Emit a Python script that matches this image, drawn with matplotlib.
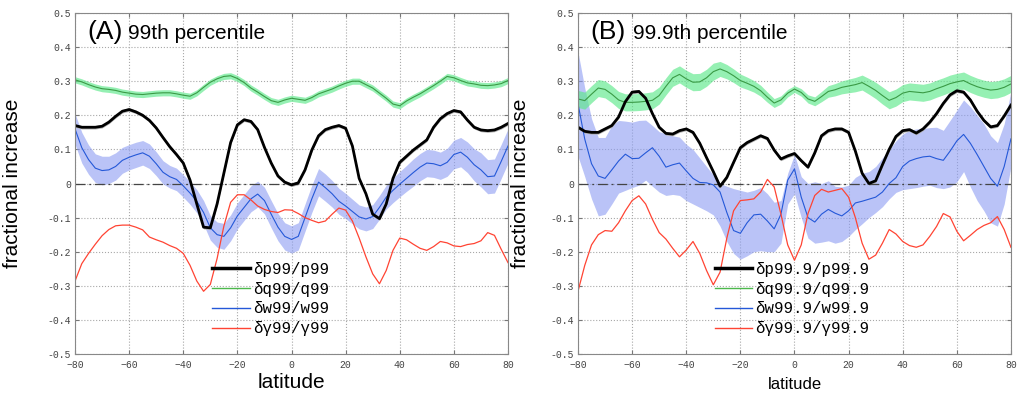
import numpy as np
import matplotlib
matplotlib.use('Agg')
import matplotlib.pyplot as plt
from matplotlib.lines import Line2D
from matplotlib.font_manager import FontProperties


# --- dados (fração de aumento vs latitude) ---
lat = np.arange(-80, 80.1, 2.5)

# painel A: percentil 99
a_p = [0.170, 0.165, 0.165, 0.165, 0.168, 0.180, 0.197, 0.212, 0.217, 0.210,
       0.200, 0.185, 0.163, 0.135, 0.108, 0.085, 0.060, 0.010, -0.060, -0.128,
       -0.130, -0.060, 0.030, 0.120, 0.172, 0.187, 0.182, 0.158, 0.106, 0.060,
       0.022, 0.004, -0.004, 0.002, 0.040, 0.098, 0.140, 0.158, 0.165, 0.170,
       0.162, 0.110, 0.015, -0.030, -0.090, -0.103, -0.060, 0.015, 0.062, 0.080,
       0.098, 0.113, 0.128, 0.165, 0.190, 0.205, 0.214, 0.210, 0.186, 0.165,
       0.157, 0.155, 0.157, 0.165, 0.176]
a_q = [0.304, 0.298, 0.290, 0.283, 0.278, 0.276, 0.273, 0.268, 0.265, 0.262,
       0.261, 0.263, 0.265, 0.266, 0.266, 0.263, 0.259, 0.256, 0.266, 0.282,
       0.297, 0.307, 0.314, 0.316, 0.308, 0.296, 0.280, 0.268, 0.255, 0.243,
       0.238, 0.245, 0.250, 0.247, 0.244, 0.252, 0.263, 0.270, 0.277, 0.286,
       0.294, 0.300, 0.300, 0.290, 0.280, 0.265, 0.250, 0.233, 0.228, 0.242,
       0.253, 0.263, 0.275, 0.287, 0.300, 0.314, 0.310, 0.302, 0.295, 0.292,
       0.288, 0.287, 0.289, 0.293, 0.302]
a_w = [0.160, 0.105, 0.070, 0.045, 0.038, 0.040, 0.050, 0.068, 0.077, 0.084,
       0.090, 0.080, 0.058, 0.033, 0.020, 0.012, -0.007, -0.028, -0.052, -0.085,
       -0.130, -0.150, -0.155, -0.130, -0.095, -0.070, -0.045, -0.031, -0.050, -0.090,
       -0.128, -0.155, -0.164, -0.155, -0.100, -0.045, 0.004, -0.012, -0.030, -0.052,
       -0.066, -0.082, -0.098, -0.104, -0.097, -0.070, -0.040, -0.020, -0.002, 0.015,
       0.032, 0.048, 0.060, 0.058, 0.052, 0.062, 0.085, 0.092, 0.077, 0.055,
       0.040, 0.020, 0.022, 0.065, 0.110]
a_w_err = [0.045, 0.045, 0.043, 0.042, 0.042, 0.040, 0.040, 0.038, 0.037, 0.037,
           0.036, 0.036, 0.035, 0.034, 0.033, 0.033, 0.033, 0.033, 0.034, 0.035,
           0.036, 0.037, 0.038, 0.038, 0.038, 0.038, 0.038, 0.038, 0.039, 0.040,
           0.040, 0.040, 0.040, 0.040, 0.040, 0.040, 0.040, 0.040, 0.039, 0.038,
           0.037, 0.036, 0.035, 0.035, 0.035, 0.035, 0.035, 0.036, 0.037, 0.038,
           0.040, 0.040, 0.040, 0.040, 0.040, 0.041, 0.042, 0.043, 0.045, 0.047,
           0.050, 0.050, 0.050, 0.050, 0.050]
a_r = [-0.286, -0.235, -0.205, -0.178, -0.153, -0.135, -0.124, -0.122, -0.122, -0.128,
       -0.136, -0.157, -0.165, -0.172, -0.182, -0.190, -0.205, -0.240, -0.286, -0.316,
       -0.296, -0.220, -0.125, -0.055, -0.033, -0.033, -0.048, -0.066, -0.076, -0.082,
       -0.085, -0.077, -0.078, -0.088, -0.100, -0.108, -0.115, -0.110, -0.090, -0.072,
       -0.078, -0.110, -0.160, -0.215, -0.265, -0.294, -0.255, -0.196, -0.160, -0.165,
       -0.178, -0.190, -0.196, -0.185, -0.170, -0.174, -0.183, -0.185, -0.179, -0.176,
       -0.168, -0.144, -0.152, -0.193, -0.232]
a_q_err = 0.009

# painel B: percentil 99.9
b_p = [0.165, 0.153, 0.150, 0.150, 0.160, 0.170, 0.195, 0.240, 0.268, 0.270,
       0.250, 0.205, 0.165, 0.147, 0.145, 0.155, 0.160, 0.150, 0.118, 0.076,
       0.035, -0.008, 0.018, 0.062, 0.105, 0.120, 0.130, 0.140, 0.132, 0.098,
       0.072, 0.081, 0.088, 0.067, 0.048, 0.090, 0.140, 0.155, 0.160, 0.160,
       0.150, 0.095, 0.030, 0.000, 0.008, 0.055, 0.100, 0.138, 0.155, 0.158,
       0.148, 0.160, 0.180, 0.205, 0.235, 0.260, 0.272, 0.268, 0.245, 0.212,
       0.185, 0.166, 0.170, 0.198, 0.230]
b_q = [0.248, 0.243, 0.262, 0.280, 0.276, 0.262, 0.245, 0.238, 0.238, 0.239,
       0.241, 0.244, 0.258, 0.285, 0.310, 0.320, 0.307, 0.297, 0.298, 0.310,
       0.328, 0.336, 0.328, 0.316, 0.302, 0.294, 0.285, 0.272, 0.253, 0.236,
       0.245, 0.265, 0.277, 0.267, 0.248, 0.241, 0.255, 0.270, 0.275, 0.282,
       0.286, 0.290, 0.296, 0.285, 0.273, 0.258, 0.244, 0.252, 0.265, 0.270,
       0.268, 0.266, 0.270, 0.278, 0.285, 0.293, 0.298, 0.302, 0.292, 0.284,
       0.278, 0.274, 0.276, 0.282, 0.292]
b_q_err = [0.025] * 21 + [0.022, 0.021, 0.020, 0.019, 0.018, 0.017, 0.016,
           0.015, 0.013, 0.012, 0.011, 0.010, 0.011, 0.012, 0.013, 0.015,
           0.017, 0.018, 0.019, 0.020, 0.021, 0.022, 0.023, 0.024] + [0.025] * 20
b_w = [0.234, 0.130, 0.058, 0.022, 0.015, 0.040, 0.066, 0.086, 0.073, 0.074,
       0.090, 0.105, 0.080, 0.048, 0.055, 0.060, 0.037, 0.015, 0.003, 0.002,
       -0.004, -0.025, -0.085, -0.138, -0.146, -0.115, -0.092, -0.090, -0.110, -0.133,
       -0.090, 0.010, 0.043, -0.040, -0.100, -0.113, -0.090, -0.076, -0.087, -0.095,
       -0.080, -0.057, -0.052, -0.046, -0.040, -0.025, 0.000, 0.017, 0.050, 0.066,
       0.073, 0.078, 0.080, 0.073, 0.068, 0.095, 0.125, 0.144, 0.118, 0.085,
       0.050, 0.015, -0.008, 0.050, 0.131]
b_w_hi = [0.386, 0.280, 0.190, 0.135, 0.135, 0.170, 0.185, 0.183, 0.180, 0.185,
          0.186, 0.170, 0.152, 0.146, 0.140, 0.136, 0.115, 0.100, 0.075, 0.050,
          0.025, 0.000, -0.008, -0.015, -0.020, -0.025, -0.020, -0.012, -0.030, -0.055,
          -0.050, 0.030, 0.085, 0.020, 0.000, 0.005, 0.000, 0.008, -0.008, -0.010,
          -0.005, 0.018, 0.030, 0.035, 0.050, 0.075, 0.100, 0.125, 0.145, 0.156,
          0.160, 0.161, 0.164, 0.165, 0.156, 0.185, 0.215, 0.245, 0.225, 0.200,
          0.175, 0.140, 0.120, 0.175, 0.270]
b_w_lo = [0.080, 0.020, -0.045, -0.095, -0.090, -0.060, -0.028, -0.020, -0.012, -0.005,
          0.010, -0.008, -0.025, -0.035, -0.032, -0.035, -0.050, -0.060, -0.070, -0.080,
          -0.092, -0.125, -0.170, -0.205, -0.222, -0.212, -0.200, -0.197, -0.200, -0.200,
          -0.175, -0.060, -0.030, -0.100, -0.160, -0.175, -0.172, -0.168, -0.175, -0.170,
          -0.155, -0.135, -0.118, -0.100, -0.085, -0.068, -0.045, -0.026, -0.018, -0.015,
          -0.012, -0.008, -0.005, -0.012, -0.015, -0.010, 0.005, 0.035, -0.010, -0.050,
          -0.080, -0.115, -0.125, -0.060, 0.050]
b_r = [-0.316, -0.240, -0.180, -0.150, -0.138, -0.140, -0.115, -0.080, -0.050, -0.036,
       -0.060, -0.105, -0.144, -0.163, -0.190, -0.215, -0.195, -0.170, -0.205, -0.255,
       -0.297, -0.260, -0.160, -0.080, -0.050, -0.048, -0.045, -0.025, 0.012, -0.010,
       -0.090, -0.180, -0.225, -0.180, -0.088, -0.035, -0.017, -0.025, -0.020, -0.015,
       -0.040, -0.100, -0.175, -0.222, -0.210, -0.175, -0.135, -0.148, -0.170, -0.182,
       -0.187, -0.180, -0.155, -0.126, -0.088, -0.098, -0.140, -0.168, -0.152, -0.135,
       -0.123, -0.115, -0.097, -0.135, -0.187]
p_err = 0.005

xtick_vals = [-80, -60, -40, -20, 0, 20, 40, 60, 80]
ytick_vals = [-0.5, -0.4, -0.3, -0.2, -0.1, 0, 0.1, 0.2, 0.3, 0.4, 0.5]
ytick_labels = ['-0.5', '-0.4', '-0.3', '-0.2', '-0.1', '0', '0.1', '0.2', '0.3', '0.4', '0.5']

labels_a = ['δp99/p99', 'δq99/q99', 'δw99/w99', 'δγ99/γ99']
labels_b = ['δp99.9/p99.9', 'δq99.9/q99.9', 'δw99.9/w99.9', 'δγ99.9/γ99.9']

# --- estilo ---
sans = ['Liberation Sans', 'DejaVu Sans']
mono = ['Liberation Mono', 'DejaVu Sans Mono']
c_p, c_q, c_w, c_r = 'black', '#3a9a45', '#2458d8', '#ff4433'
c_qband, c_wband = '#5de88a', '#8c9cf2'


def draw_panel(ax, p, q, q_lo, q_hi, w, w_lo, w_hi, r, labels, tag, title,
               title_x, ylab_x, xlab_size, xlab_y):
    ax.fill_between(lat, w_lo, w_hi, color=c_wband, alpha=0.6, lw=0)
    ax.fill_between(lat, q_lo, q_hi, color=c_qband, alpha=0.65, lw=0)
    ax.fill_between(lat, np.array(p) - p_err, np.array(p) + p_err, color='#b0b0b0', lw=0)
    ax.axhline(0, color='#444444', lw=0.9, dashes=(8, 3, 1.5, 3), zorder=1.5)
    ax.plot(lat, q, color=c_q, lw=0.8)
    ax.plot(lat, w, color=c_w, lw=0.8)
    ax.plot(lat, r, color=c_r, lw=0.9)
    ax.plot(lat, p, color=c_p, lw=2.0)

    ax.set_xlim(-80, 80)
    ax.set_ylim(-0.5, 0.5)
    ax.set_xticks(xtick_vals)
    ax.set_yticks(ytick_vals)
    ax.set_yticklabels(ytick_labels)
    ax.grid(True, color='#a8a8a8', ls=':', lw=0.8)
    ax.set_axisbelow(True)
    ax.tick_params(direction='in', length=3, color='#777777', top=True, right=True,
                   labelsize=7, labelcolor='#444444')
    ax.tick_params(axis='x', pad=4)
    ax.tick_params(axis='y', pad=3)
    for lab in ax.get_xticklabels() + ax.get_yticklabels():
        lab.set_family(mono)
    for s in ax.spines.values():
        s.set_color('#888888')
        s.set_linewidth(0.8)

    ax.set_ylabel('fractional increase', fontsize=15, family=sans)
    ax.yaxis.set_label_coords(ylab_x, 0.5)
    ax.set_xlabel('latitude', fontsize=xlab_size, family=sans)
    ax.xaxis.set_label_coords(0.5, xlab_y)

    ax.text(0.028, 0.925, tag, transform=ax.transAxes, fontsize=19, family=sans)
    ax.text(title_x, 0.925, title, transform=ax.transAxes, fontsize=15, family=sans)

    handles = [Line2D([], [], color=c_p, lw=2.5), Line2D([], [], color='#4cb84c', lw=1),
               Line2D([], [], color=c_w, lw=1), Line2D([], [], color=c_r, lw=1)]
    ax.legend(handles, labels, loc='upper left', bbox_to_anchor=(0.316, 0.27),
              frameon=False, prop=FontProperties(family=mono, size=11.3),
              handlelength=2.4, handletextpad=0.2, labelspacing=0.3,
              borderpad=0, borderaxespad=0)


fig = plt.figure(figsize=(10.25, 3.93), dpi=100)
ax_a = fig.add_axes([0.0732, 0.0992, 0.4224, 0.8677])
ax_b = fig.add_axes([0.5639, 0.0992, 0.4224, 0.8677])

a_q_arr = np.array(a_q)
a_w_arr = np.array(a_w)
draw_panel(ax_a, a_p, a_q, a_q_arr - a_q_err, a_q_arr + a_q_err,
           a_w, a_w_arr - np.array(a_w_err), a_w_arr + np.array(a_w_err), a_r,
           labels_a, '(A)', '99th percentile', 0.122, -0.122, 15, -0.056)

b_q_arr = np.array(b_q)
draw_panel(ax_b, b_p, b_q, b_q_arr - np.array(b_q_err), b_q_arr + np.array(b_q_err),
           b_w, b_w_lo, b_w_hi, b_r,
           labels_b, '(B)', '99.9th percentile', 0.127, -0.111, 12, -0.067)

fig.savefig('out.png', dpi=100)
